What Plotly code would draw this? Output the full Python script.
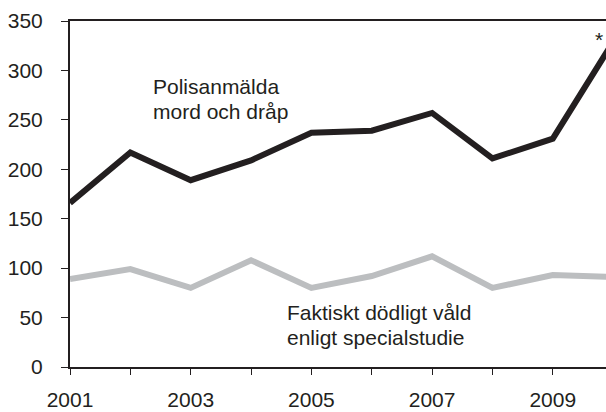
import plotly.graph_objects as go

years = [2001, 2002, 2003, 2004, 2005, 2006, 2007, 2008, 2009, 2010]
polisanmalda = [166, 217, 189, 209, 237, 239, 257, 211, 231, 329]
faktiskt = [89, 99, 80, 108, 80, 92, 112, 80, 93, 91]
x_tick_vals = list(range(2001, 2011))
x_tick_text = ["2001", "", "2003", "", "2005", "", "2007", "", "2009", ""]
y_tick_vals = [0, 50, 100, 150, 200, 250, 300, 350]

W, H = 606, 412
L, R, T, B = 70, 0, 21, 45
pw = W - L - R
ph = H - T - B
px_per_year = 60.35
x_max = 2001 + pw / px_per_year

FONT = "Liberation Sans, Arial, sans-serif"
INK = "#231f20"

def px2paper(px, py):
    return (px - L) / pw, (H - B - py) / ph

fig = go.Figure()
fig.add_trace(go.Scatter(x=years, y=faktiskt, mode="lines",
                         line=dict(color="#bcbec0", width=6), hoverinfo="skip"))
fig.add_trace(go.Scatter(x=years, y=polisanmalda, mode="lines",
                         line=dict(color=INK, width=6), hoverinfo="skip"))

annots = [
    ("Polisanmälda", 151, 86),
    ("mord och dråp", 151, 111),
    ("Faktiskt dödligt våld", 285, 312),
    ("enligt specialstudie", 285, 337),
]
for txt, px, py in annots:
    ax, ay = px2paper(px, py)
    fig.add_annotation(text=txt, x=ax, y=ay, xref="paper", yref="paper",
                       xanchor="left", yanchor="middle", showarrow=False,
                       font=dict(family=FONT, size=21, color=INK))
ax, ay = px2paper(599, 40)
fig.add_annotation(text="*", x=ax, y=ay, xref="paper", yref="paper",
                   xanchor="center", yanchor="middle", showarrow=False,
                   font=dict(family=FONT, size=21, color=INK))

fig.update_layout(
    width=W, height=H,
    margin=dict(l=L, r=R, t=T, b=B, pad=0, autoexpand=False),
    paper_bgcolor="white", plot_bgcolor="white",
    showlegend=False,
    font=dict(family=FONT, size=20, color=INK),
    xaxis=dict(range=[2001, x_max], tickmode="array", tickvals=x_tick_vals,
               ticktext=x_tick_text, ticks="outside", ticklen=6, tickwidth=1.3,
               tickcolor=INK, showline=True, linecolor=INK, linewidth=1.5,
               mirror=True, showgrid=False, zeroline=False, automargin=False,
               ticklabelstandoff=7,
               tickfont=dict(family=FONT, size=21, color=INK)),
    yaxis=dict(range=[0, 350], tickmode="array", tickvals=y_tick_vals,
               ticks="outside", ticklen=7, tickwidth=1.3, tickcolor=INK,
               showline=True, linecolor=INK, linewidth=2, automargin=False,
               showgrid=False, zeroline=False, ticklabelstandoff=14,
               tickfont=dict(family=FONT, size=21, color=INK)),
)

fig.write_html("out.html", config={"displayModeBar": False},
               post_script="document.body.style.margin='0';document.body.style.overflow='hidden';")
